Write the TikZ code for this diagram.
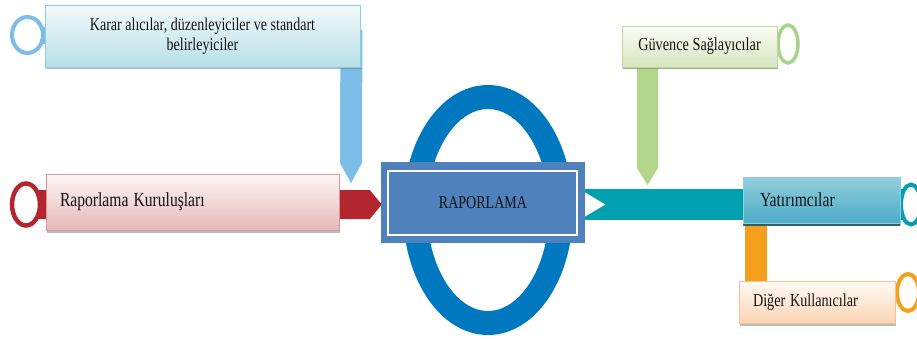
\documentclass[tikz,border=0pt]{standalone}
\usepackage{graphicx}
\usepackage{fontspec}
\setmainfont{Liberation Serif}
\usetikzlibrary{calc,shapes.geometric,shadows,backgrounds}

% narrow serif lettering
\newcommand{\narrowtxt}[1]{\scalebox{0.78}[1]{#1}}

\definecolor{txt}{HTML}{141414}
\definecolor{kblue}{HTML}{7DBEE8}
\definecolor{kedge}{HTML}{92CDDC}
\definecolor{ktop}{HTML}{F4FAFC}
\definecolor{kbot}{HTML}{B7DEE8}
\definecolor{rred}{HTML}{B4262F}
\definecolor{redge}{HTML}{D99694}
\definecolor{rtop}{HTML}{FDF6F6}
\definecolor{rbot}{HTML}{E6B9B8}
\definecolor{cblue}{HTML}{0078C0}
\definecolor{rapblue}{HTML}{4F81BD}
\definecolor{teal}{HTML}{00A0B0}
\definecolor{gbar}{HTML}{B2D68C}
\definecolor{gring}{HTML}{A9D38A}
\definecolor{gedge}{HTML}{C3D69B}
\definecolor{gtop}{HTML}{FBFDF8}
\definecolor{gbot}{HTML}{D7E4BD}
\definecolor{ytop}{HTML}{93CDDD}
\definecolor{ybot}{HTML}{4BACC6}
\definecolor{ydark}{HTML}{215867}
\definecolor{orng}{HTML}{F5A01C}
\definecolor{oedge}{HTML}{FAC090}
\definecolor{otop}{HTML}{FFFAF5}
\definecolor{obot}{HTML}{FBD4B4}

\begin{document}
\begin{tikzpicture}[x=1pt,y=1pt,
  ring/.style={ellipse, draw, fill=white, inner sep=0pt, line width=4pt},
  box/.style={rectangle, draw, line width=0.8pt, inner sep=0pt, text=txt,
    drop shadow={shadow xshift=1pt, shadow yshift=-2.5pt, opacity=0.45, fill=black!60}},
]
\useasboundingbox (0,0) rectangle (917,338);

% end rings
\node[ring, draw=kblue, minimum width=31pt, minimum height=36pt] (kring) at (27.5,303) {};
\node[ring, draw=rred, line width=4.5pt, minimum width=28pt, minimum height=42pt] (rring) at (26,133.5) {};
\node[ring, draw=gring, line width=3.5pt, minimum width=20pt, minimum height=38pt] (gring) at (788,294) {};
\node[ring, draw=teal, minimum width=20pt, minimum height=40pt] (yring) at (911,133.5) {};
\node[ring, draw=orng, minimum width=22pt, minimum height=37pt] (oring) at (908,45.5) {};

% central element
\node[ellipse, draw=cblue, line width=24pt, minimum width=146pt, minimum height=226pt, inner sep=0pt] (cring) at (488,128) {};
\node[rectangle, fill=rapblue, minimum width=204pt, minimum height=81pt, inner sep=0pt,
  text=txt, font=\fontsize{18}{20}\selectfont] (rap) at (483,135.5) {\narrowtxt{RAPORLAMA}};
\draw[white, line width=2pt] ($(rap.south west)+(7,8)$) rectangle ($(rap.north east)+(-8,-9)$);

% labelled boxes
\node[box, draw=kedge, top color=ktop, bottom color=kbot, minimum width=315pt, minimum height=62pt,
  align=center, font=\fontsize{18}{20}\selectfont] (kbox) at (202.5,302)
  {\narrowtxt{Karar alıcılar, düzenleyiciler ve standart}\\\narrowtxt{belirleyiciler}};
\node[box, draw=redge, top color=rtop, bottom color=rbot, minimum width=293pt, minimum height=56pt,
  inner xsep=14pt, text width=265pt, align=left, font=\fontsize{20}{22}\selectfont] (rbox) at (192.5,136)
  {\raisebox{5pt}{\narrowtxt{Raporlama Kuruluşları}}};
\node[box, draw=gedge, top color=gtop, bottom color=gbot, minimum width=155pt, minimum height=41pt,
  align=center, font=\fontsize{18.3}{20}\selectfont,
  drop shadow={shadow xshift=1pt, shadow yshift=-2.5pt, opacity=0.6, fill=gring!80!black}] (gbox) at (699.5,291.5)
  {\narrowtxt{Güvence Sağlayıcılar}};
\node[box, draw=ytop, top color=ytop, bottom color=ybot, minimum width=157pt, minimum height=46pt,
  inner xsep=17pt, text width=123pt, align=left, font=\fontsize{20}{22}\selectfont,
  drop shadow={shadow xshift=0pt, shadow yshift=-3pt, opacity=0.9, fill=ydark}] (ybox) at (821.5,138)
  {\narrowtxt{Yatırımcılar}};
\node[box, draw=oedge, top color=otop, bottom color=obot, minimum width=156pt, minimum height=42pt,
  inner xsep=14pt, text width=128pt, align=left, font=\fontsize{18.2}{20}\selectfont] (dbox) at (817,36)
  {\narrowtxt{Diğer Kullanıcılar}};

% tips of the falling bars
\coordinate (ktip) at (351,155);
\coordinate (gtip) at (647.5,153);
\coordinate (rtip) at ($(rap.west |- rring.center)+(1,0)$);

\begin{scope}[on background layer]
  % decision makers: stem to ring and bar falling onto the red band
  \fill[kblue] ($(kring.center)+(0,8)$) rectangle ($(kbox.west)+(5,-8)$);
  \fill[kblue] ($(kbox.east)+(-20,6)$) -- ($(kbox.east)+(2,6)$) -- ($(ktip)+(11,20)$)
    -- (ktip) -- ($(ktip)+(-11,20)$) -- cycle;
  % reporting entities: band into the central box
  \fill[rred] ($(rring.center)+(0,14.5)$) -- ($(rtip)+(-12,14.5)$) -- (rtip)
    -- ($(rtip)+(-12,-14.5)$) -- ($(rring.center)+(0,-14.5)$) -- cycle;
  % assurance providers: stem to ring and bar falling onto the teal band
  \fill[gring] ($(gbox.east)+(-5,8)$) rectangle ($(gring.center)+(0,-8)$);
  \fill[gbar] ($(gbox.center -| gtip)+(-10.5,0)$) -- ($(gbox.center -| gtip)+(10.5,0)$)
    -- ($(gtip)+(10.5,17)$) -- (gtip) -- ($(gtip)+(-10.5,17)$) -- cycle;
  % investors: band out of the central box
  \fill[teal] ($(rap.east |- yring.center)+(-2,15.5)$) rectangle ($(yring.center)+(0,-15.5)$);
  \fill[white] ($(rap.east |- yring.center)+(0,12)$) -- ($(rap.east |- yring.center)+(20,0)$)
    -- ($(rap.east |- yring.center)+(0,-12)$) -- cycle;
  % other users: bar from investors and stem to ring
  \fill[orng] ($(ybox.west)+(2,0)$) rectangle ($(dbox.north west)+(28,-5)$);
  \fill[orng] ($(dbox.east)+(-5,8)$) rectangle ($(oring.center)+(0,-8)$);
\end{scope}
\end{tikzpicture}
\end{document}
